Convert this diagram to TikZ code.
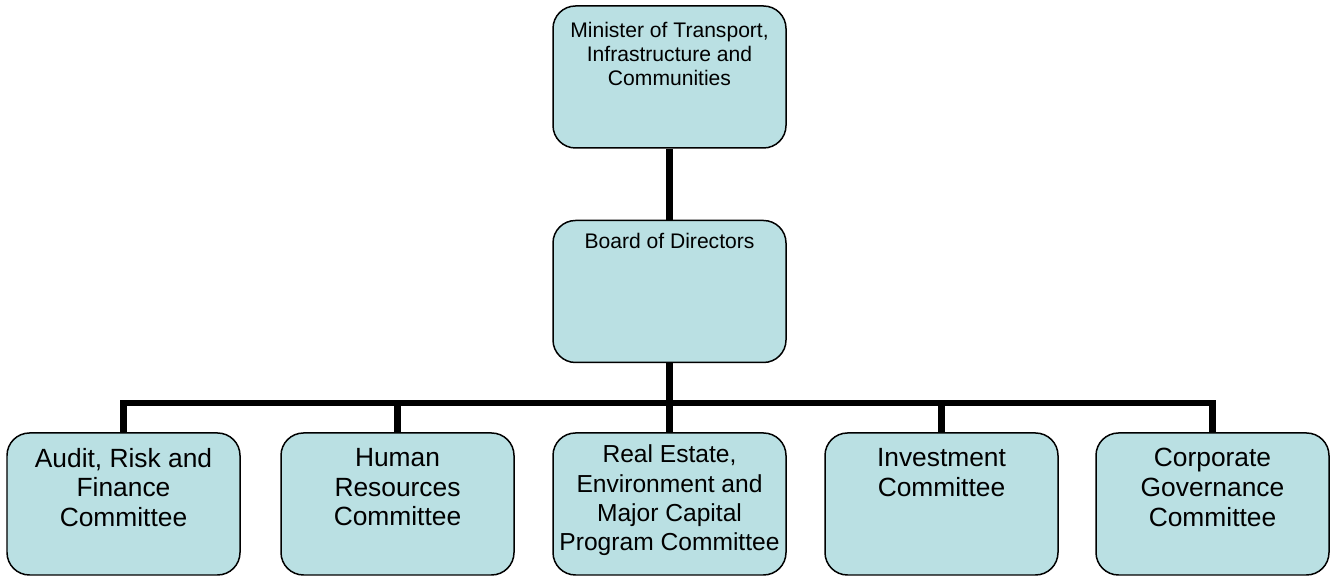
\documentclass[tikz,border=0pt]{standalone}
\usepackage{fontspec}
\setmainfont{Liberation Sans}
\usepackage{tikz}

\definecolor{boxblue}{RGB}{186,224,227}

% text of a box: fixed size, lines hung from the top
\newcommand{\boxlines}[2]{\parbox[c][2.84cm][t]{4.66cm}{\centering\vspace*{#1}#2}}

\tikzset{
  orgbox/.style={draw=black, line width=0.85pt, fill=boxblue,
    rounded corners=0.45cm, inner sep=0pt, minimum width=4.66cm, minimum height=2.84cm},
  small/.style={font=\fontsize{12}{13.8}\selectfont},
  big/.style={font=\fontsize{15}{17}\selectfont},
  bigger/.style={font=\fontsize{14}{16.7}\selectfont}
}
\tikzset{link/.style={line width=3.6pt, line join=miter}}

\begin{document}
\begin{tikzpicture}
\useasboundingbox (0, 0) rectangle (26.7, 11.52);
% Minister and Board
\node[orgbox, small] (minister) at (13.39, 9.98)
{\boxlines{0.32cm}{Minister of Transport,\\ Infrastructure and\\ Communities}};
\node[orgbox, small] (board) at (13.39, 5.69)
{\boxlines{0.26cm}{Board of Directors}};
%
% Committees
\node[orgbox, big] (audit) at (2.47, 1.44)
{\boxlines{0.3cm}{Audit, Risk and\\ Finance\\ Committee}};
\node[orgbox, big] (hr) at (7.95, 1.44)
{\boxlines{0.3cm}{Human\\ Resources\\ Committee}};
\node[orgbox, bigger] (estate) at (13.39, 1.44)
{\boxlines{0.24cm}{Real Estate,\\ Environment and\\ Major Capital\\ Program Committee}};
\node[orgbox, big] (invest) at (18.83, 1.44)
{\boxlines{0.3cm}{Investment\\ Committee}};
\node[orgbox, big] (govern) at (24.25, 1.44)
{\boxlines{0.3cm}{Corporate\\ Governance\\ Committee}};
\coordinate (bus) at (13.39, 3.46);
%
% Reporting lines
\draw[link] (minister.south) -- (board.north);
\draw[link] (board.south) -- (bus);
\draw[link] (audit.north) |- (bus) -| (govern.north);
\draw[link] (hr.north) -- (hr.north |- bus);
\draw[link] (estate.north) -- (bus);
\draw[link] (invest.north) -- (invest.north |- bus);
\end{tikzpicture}
\end{document}
